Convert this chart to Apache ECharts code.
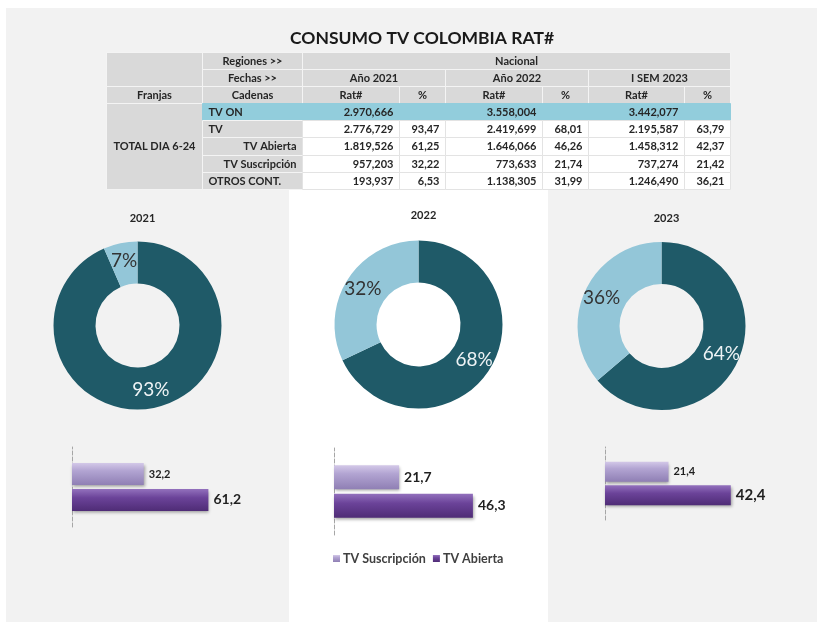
<!DOCTYPE html>
<html>
<head>
<meta charset="utf-8">
<title>Consumo TV Colombia</title>
<script src="https://cdn.jsdelivr.net/npm/echarts@6.0.0/dist/echarts.min.js"></script>
<style>
html, body { margin: 0; padding: 0; background: #fff; }
.wrap { position: relative; width: 817px; height: 622px; }
.bg { position: absolute; left: 6px; top: 8px; right: 0; bottom: 0; background: #f2f2f2; }
.panel { position: absolute; left: 289px; top: 190px; width: 259px; bottom: 0; background: #fff; }
#chart { position: absolute; left: 0; top: 0; width: 817px; height: 622px; }
</style>
</head>
<body>
<div class="wrap">
  <div class="bg"></div>
  <div class="panel"></div>
  <div id="chart"></div>
</div>
<script>
// tabla
var cadenas = ['TV ON', 'TV', 'TV Abierta', 'TV Suscripción', 'OTROS CONT.'];
var periodos = ['Año 2021', 'Año 2022', 'I SEM 2023'];
var rat2021 = [2970.666, 2776.729, 1819.526, 957.203, 193.937];
var pct2021 = [null, 93.47, 61.25, 32.22, 6.53];
var rat2022 = [3558.004, 2419.699, 1646.066, 773.633, 1138.305];
var pct2022 = [null, 68.01, 46.26, 21.74, 31.99];
var rat2023 = [3442.077, 2195.587, 1458.312, 737.274, 1246.490];
var pct2023 = [null, 63.79, 42.37, 21.42, 36.21];

// donas y barras
var years = ['2021', '2022', '2023'];
var tvShare = [93.47, 68.01, 63.79];
var otrosShare = [6.53, 31.99, 36.21];
var suscripcion = [32.2, 21.7, 21.4];
var abierta = [61.2, 46.3, 42.4];
var seriesNames = ['TV Suscripción', 'TV Abierta'];

var FONT = 'Lato';
var TXT = '#262626';

function fmtRat(v) {
  var p = v.toFixed(3).split('.');
  return p[0].replace(/\B(?=(\d{3})+(?!\d))/g, '.') + ',' + p[1];
}
function fmtPct(v) {
  return v == null ? '' : v.toFixed(2).replace('.', ',');
}

var colIds = ['c0', 'c1', 'c2', 'c3', 'c4', 'c5', 'c6', 'c7'];
var rowIds = ['r0', 'r1', 'r2', 'r3', 'r4', 'r5', 'r6', 'r7'];
var colWidths = [96, 100, 97, 46, 97, 46, 96, 46];

var gray = { color: '#d9d9d9', borderColor: '#f4f4f4', borderWidth: 1 };
var blue = { color: '#92cddc', borderColor: '#92cddc', borderWidth: 1 };
var white = { color: '#ffffff', borderColor: '#e3e3e3', borderWidth: 1 };

var cells = [];
function cell(coord, value, style, pos) {
  cells.push({
    coord: coord,
    mergeCells: Array.isArray(coord[0]) || Array.isArray(coord[1]),
    value: value,
    itemStyle: style,
    label: { position: pos || 'inside', distance: 3 }
  });
}
cell(['c0', ['r0', 'r1']], '', gray);
cell(['c1', 'r0'], 'Regiones >>', gray);
cell([['c2', 'c7'], 'r0'], 'Nacional', gray);
cell(['c1', 'r1'], 'Fechas >>', gray);
periodos.forEach(function (p, i) {
  cell([[colIds[2 + i * 2], colIds[3 + i * 2]], 'r1'], p, gray);
});
['Franjas', 'Cadenas', 'Rat#', '%', 'Rat#', '%', 'Rat#', '%'].forEach(function (h, i) {
  cell([colIds[i], 'r2'], h, gray);
});
cell(['c0', ['r3', 'r7']], 'TOTAL DIA 6-24', gray);
var rats = [rat2021, rat2022, rat2023];
var pcts = [pct2021, pct2022, pct2023];
cadenas.forEach(function (name, r) {
  var rowId = rowIds[3 + r];
  var st = r === 0 ? blue : white;
  var pos = (name === 'TV Abierta' || name === 'TV Suscripción') ? 'insideRight' : 'insideLeft';
  cell(['c1', rowId], name, r === 0 ? blue : gray, pos);
  for (var k = 0; k < 3; k++) {
    cell([colIds[2 + k * 2], rowId], fmtRat(rats[k][r]), st, 'insideRight');
    cell([colIds[3 + k * 2], rowId], fmtPct(pcts[k][r]), st, 'insideRight');
  }
});

var pieCenters = [[137.5, 325.5], [418.5, 324.5], [661.5, 326]];
var barGrids = [
  { left: 72, top: 447, width: 156, height: 80, max: 70, bw: 22, sz: [11, 14] },
  { left: 334, top: 448, width: 180, height: 87, max: 60, bw: 24, sz: [14, 14] },
  { left: 605, top: 447, width: 178, height: 73, max: 60, bw: 20, sz: [11, 15] }
];

var titles = [{
  text: 'CONSUMO TV COLOMBIA RAT#',
  left: 417, top: 24, textAlign: 'center',
  textStyle: { fontFamily: FONT, fontSize: 17.5, fontWeight: 'bold', color: '#1a1a1a' }
}];
var series = [];
var grids = [], xAxes = [], yAxes = [];

var lightBar = new echarts.graphic.LinearGradient(0, 0, 0, 1, [
  { offset: 0, color: '#d3c8e8' }, { offset: 0.35, color: '#b2a4d2' }, { offset: 1, color: '#8f7fb4' }
]);
var darkBar = new echarts.graphic.LinearGradient(0, 0, 0, 1, [
  { offset: 0, color: '#9371bd' }, { offset: 0.4, color: '#6b4399' }, { offset: 1, color: '#4f2c76' }
]);

years.forEach(function (y, i) {
  titles.push({
    text: y, left: pieCenters[i][0], top: i === 1 ? 205 : 208, textAlign: 'center',
    textStyle: { fontFamily: FONT, fontSize: 11, fontWeight: 'bold', color: TXT }
  });
  series.push({
    type: 'pie',
    center: pieCenters[i],
    radius: [42, 84],
    startAngle: 90,
    silent: true,
    label: {
      position: 'inside', fontFamily: FONT, fontSize: 19,
      formatter: function (p) { return Math.round(p.value) + '%'; }
    },
    labelLine: { show: false },
    data: [
      { value: tvShare[i], name: 'TV', itemStyle: { color: '#1f5a68' }, label: { color: '#eef3f5' } },
      { value: otrosShare[i], name: 'OTROS CONT.', itemStyle: { color: '#93c6d8' }, label: { color: '#333333' } }
    ]
  });

  var g = barGrids[i];
  grids.push({ left: g.left, top: g.top, width: g.width, height: g.height });
  xAxes.push({ gridIndex: i, type: 'value', min: 0, max: g.max, show: false });
  yAxes.push({
    gridIndex: i, type: 'category', data: [y],
    axisLine: { lineStyle: { color: '#a6a6a6', type: 'dashed' } },
    axisTick: { show: false }, axisLabel: { show: false }
  });
  [suscripcion, abierta].forEach(function (arr, k) {
    series.push({
      type: 'bar', name: seriesNames[k], xAxisIndex: i, yAxisIndex: i,
      data: [arr[i]], barWidth: g.bw, barGap: '18%', silent: true,
      itemStyle: {
        color: k === 0 ? lightBar : darkBar,
        shadowBlur: 3, shadowColor: 'rgba(0,0,0,0.35)', shadowOffsetX: 1, shadowOffsetY: 2
      },
      label: {
        show: true, position: 'right', distance: 5, fontFamily: FONT,
        fontWeight: 'bold', fontSize: g.sz[k], color: '#1f1f1f',
        formatter: function (p) { return String(p.value).replace('.', ','); }
      }
    });
  });
});

var chart = echarts.init(document.getElementById('chart'));
chart.setOption({
  animation: false,
  textStyle: { fontFamily: FONT },
  title: titles,
  legend: {
    data: seriesNames, left: 333, top: 552, padding: 0,
    itemWidth: 7, itemHeight: 7, itemGap: 7, icon: 'rect',
    textStyle: { fontFamily: FONT, fontSize: 12.5, fontWeight: 'bold', color: '#404040', padding: [0, 0, 0, -2] }
  },
  matrix: {
    left: 106, top: 52, width: 624, height: 137,
    x: { show: false, data: colIds.map(function (c, i) { return { value: c, size: colWidths[i] }; }) },
    y: { show: false, data: rowIds },
    backgroundStyle: { borderWidth: 0, color: 'transparent' },
    body: {
      data: cells,
      itemStyle: { color: '#ffffff', borderColor: '#e3e3e3', borderWidth: 1 },
      label: { fontFamily: FONT, fontSize: 11, fontWeight: 'bold', color: TXT }
    }
  },
  grid: grids,
  xAxis: xAxes,
  yAxis: yAxes,
  series: series
});
</script>
</body>
</html>
